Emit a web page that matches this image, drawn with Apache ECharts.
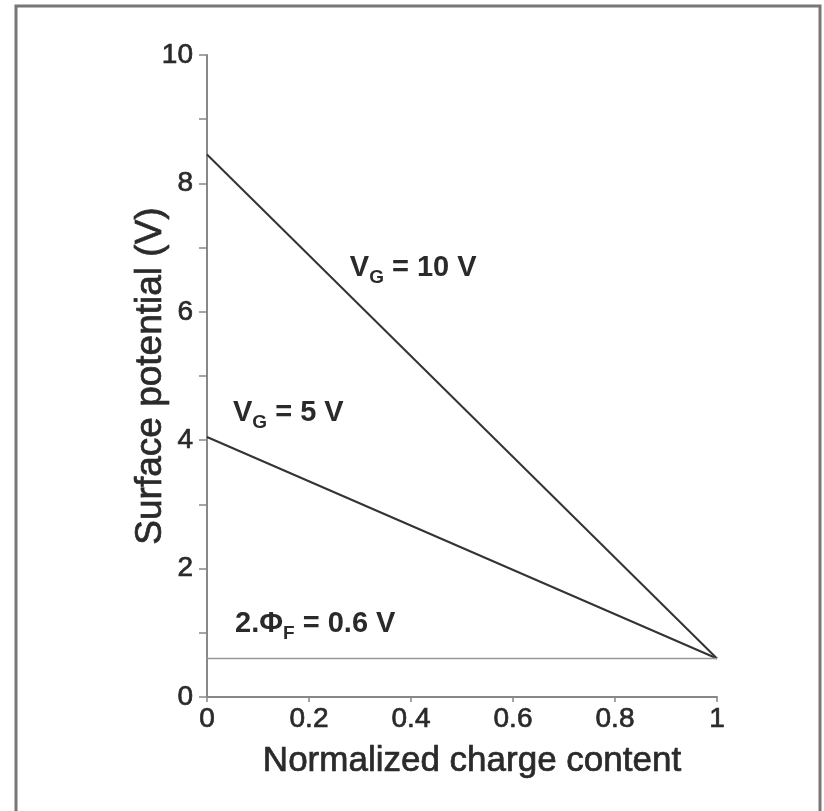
<!DOCTYPE html>
<html>
<head>
<meta charset="utf-8">
<script src="https://cdn.jsdelivr.net/npm/echarts@6/dist/echarts.min.js"></script>
<style>
  html, body { margin: 0; padding: 0; background: #fff; }
  #chart { width: 824px; height: 811px; }
</style>
</head>
<body>
<div id="chart"></div>
<script>
// normalized charge content (x) vs surface potential (y)
const chargeX = [0, 1];
const vg10 = [8.45, 0.6];
const vg5 = [4.05, 0.6];
const phiF = [0.6, 0.6];
const xTicks = [0, 0.2, 0.4, 0.6, 0.8, 1];
const yTicks = [0, 2, 4, 6, 8, 10];

// annotation anchors (data coords, left/middle of text)
const notes = [
  { at: [0.28, 6.68], main: "V", sub: "G", rest: " = 10 V" },
  { at: [0.051, 4.42], main: "V", sub: "G", rest: " = 5 V" },
  { at: [0.055, 1.14], main: "2.\u03A6", sub: "F", rest: " = 0.6 V" }
];

const font = "'Liberation Sans', Arial, Helvetica, sans-serif";
const ink = "#2a2a2a";
// slight stroke so the type looks as heavy as the scanned original
const heavy = { textBorderColor: ink, textBorderWidth: 0.7 };

const toPairs = (ys) => chargeX.map((x, i) => [x, ys[i]]);

const chart = echarts.init(document.getElementById("chart"));
const option = {
  animation: false,
  backgroundColor: "#fff",
  grid: { left: 207, right: 107, top: 55, bottom: 114 },
  xAxis: {
    type: "value",
    min: 0,
    max: 1,
    interval: 0.2,
    name: "Normalized charge content",
    nameLocation: "middle",
    nameGap: 47,
    nameMoveOverlap: false,
    nameTextStyle: Object.assign({ fontFamily: font, fontSize: 35, color: ink, padding: [0, 0, 0, 20] }, heavy),
    axisLine: { lineStyle: { color: "#888", width: 2 } },
    axisTick: { show: true, length: 5, lineStyle: { color: "#888", width: 1.5 } },
    axisLabel: Object.assign({
      fontFamily: font, fontSize: 28, color: ink, margin: 8,
      formatter: (v) => (xTicks.includes(+v.toFixed(1)) ? String(+v.toFixed(1)) : "")
    }, heavy),
    splitLine: { show: false }
  },
  yAxis: {
    type: "value",
    min: 0,
    max: 10,
    interval: 2,
    name: "Surface potential (V)",
    nameLocation: "middle",
    nameGap: 38,
    nameMoveOverlap: false,
    nameTextStyle: Object.assign({ fontFamily: font, fontSize: 37, color: ink }, heavy),
    axisLine: { show: true, lineStyle: { color: "#888", width: 2 } },
    axisTick: { show: true, length: 8, lineStyle: { color: "#888", width: 1.5 } },
    minorTick: { show: true, splitNumber: 2, length: 8, lineStyle: { color: "#888", width: 1.5 } },
    axisLabel: Object.assign({
      fontFamily: font, fontSize: 28, color: ink, margin: 14,
      formatter: (v) => (yTicks.includes(v) ? String(v) : "")
    }, heavy),
    splitLine: { show: false }
  },
  series: [
    {
      name: "VG = 10 V", type: "line", data: toPairs(vg10), symbol: "none",
      lineStyle: { color: "#333", width: 2 }
    },
    {
      name: "VG = 5 V", type: "line", data: toPairs(vg5), symbol: "none",
      lineStyle: { color: "#333", width: 2 }
    },
    {
      name: "2PhiF", type: "line", data: toPairs(phiF), symbol: "none",
      lineStyle: { color: "#999", width: 1.5 }
    }
  ]
};
chart.setOption(option);

// frame around the figure + annotations placed via the chart's own scales
const graphics = [
  {
    type: "rect",
    shape: { x: 16, y: 6, width: 804, height: 820 },
    style: { fill: "none", stroke: "#777", lineWidth: 3 },
    silent: true
  }
];
notes.forEach((n) => {
  const p = chart.convertToPixel({ gridIndex: 0 }, n.at);
  graphics.push({
    type: "text",
    x: p[0],
    y: p[1],
    style: {
      text: "{m|" + n.main + "}{s|" + n.sub + "}{m|" + n.rest + "}",
      verticalAlign: "middle",
      align: "left",
      rich: {
        m: { fontFamily: font, fontSize: 29, fill: ink, fontWeight: "bold" },
        s: { fontFamily: font, fontSize: 19, fill: ink, fontWeight: "bold", padding: [19, 0, 0, 0] }
      }
    }
  });
});
chart.setOption({ graphic: graphics });
</script>
</body>
</html>
